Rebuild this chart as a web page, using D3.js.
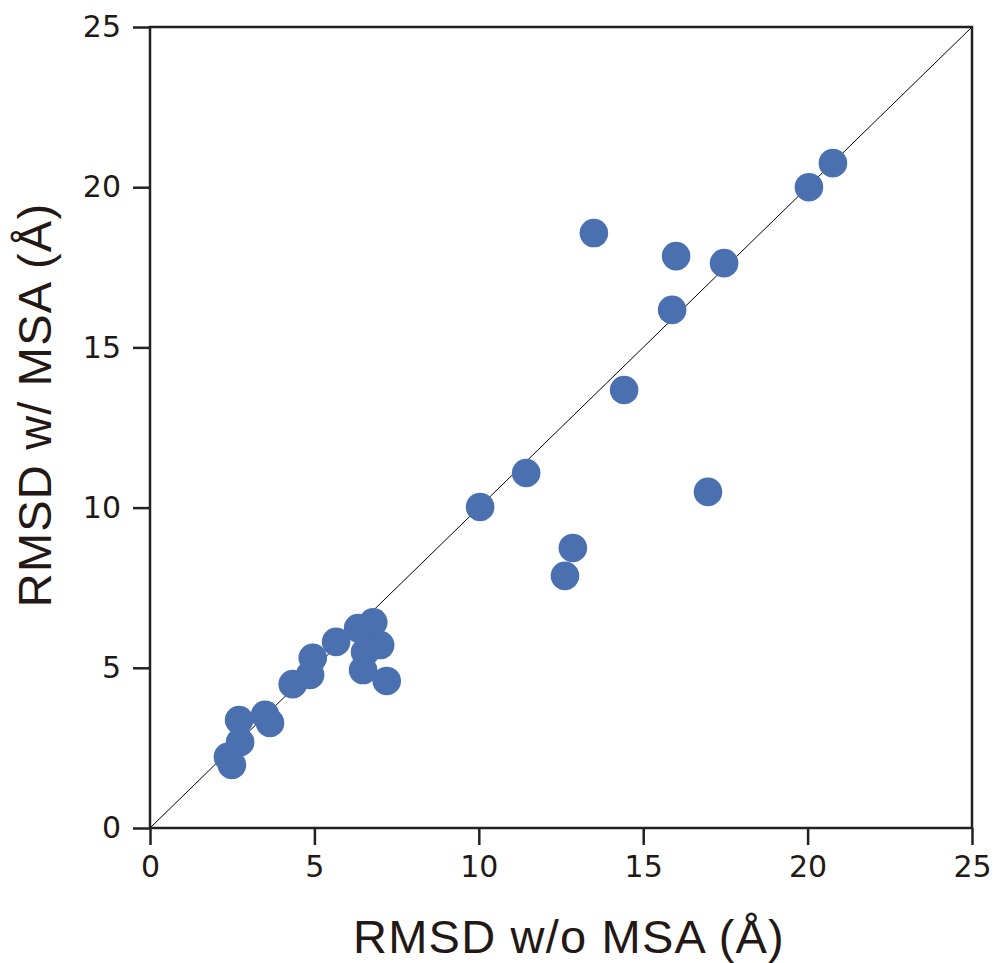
<!DOCTYPE html>
<html>
<head>
<meta charset="utf-8">
<script src="https://cdn.jsdelivr.net/npm/d3@7"></script>
<style>
body { margin: 0; background: #fff; }
</style>
</head>
<body>
<div id="chart"></div>
<script>
// RMSD values
var xVals = [20.77, 20.04, 13.50, 16.00, 17.46, 15.88, 14.42, 11.44, 10.04, 16.97, 12.86, 12.62,
  6.79, 6.33, 7.00, 6.54, 6.48, 7.20, 5.66, 4.95, 4.87, 4.34, 3.65, 3.50, 2.71, 2.74, 2.37, 2.49];
var yVals = [20.75, 20.00, 18.57, 17.85, 17.63, 16.17, 13.67, 11.08, 10.02, 10.49, 8.74, 7.87,
  6.42, 6.24, 5.71, 5.49, 4.93, 4.59, 5.81, 5.31, 4.78, 4.49, 3.28, 3.53, 3.37, 2.68, 2.22, 1.97];
var ticks = [0, 5, 10, 15, 20, 25];

var W = 997, H = 963;
const margin = {top: 27, right: 25, bottom: 135, left: 150};
var width = W - margin.left - margin.right,
    height = H - margin.top - margin.bottom;

var svg = d3.select("#chart").append("svg")
  .attr("width", W)
  .attr("height", H);

var g = svg.append("g")
  .attr("transform", "translate(" + margin.left + "," + margin.top + ")");

var x = d3.scaleLinear().domain([0, 25]).range([0, width]);
var y = d3.scaleLinear().domain([0, 25]).range([height, 0]);

var textColor = "#231815";

// diagonal y = x
g.append("line")
  .attr("x1", x(0)).attr("y1", y(0))
  .attr("x2", x(25)).attr("y2", y(25))
  .attr("stroke", "#000")
  .attr("stroke-width", 1);

var data = xVals.map((v, i) => ({x: v, y: yVals[i]}));

g.selectAll(".dot")
  .data(data)
  .enter()
  .append("circle")
  .attr("class", "dot")
  .attr("cx", d => x(d.x))
  .attr("cy", d => y(d.y))
  .attr("r", 14.3)
  .attr("fill", "#4A70B0");

// frame
g.append("rect")
  .attr("width", width)
  .attr("height", height)
  .attr("fill", "none")
  .attr("stroke", "#222")
  .attr("stroke-width", 2.5);

var xAxis = g.append("g")
  .attr("transform", "translate(0," + height + ")")
  .call(d3.axisBottom(x).tickValues(ticks).tickSize(17).tickPadding(11));
var yAxis = g.append("g")
  .call(d3.axisLeft(y).tickValues(ticks).tickSize(17).tickPadding(12));

[xAxis, yAxis].forEach(a => {
  a.select(".domain").remove();
  a.selectAll(".tick line").attr("stroke", "#222").attr("stroke-width", 2.5);
  a.selectAll(".tick text")
    .attr("fill", textColor)
    .style("font-family", "DejaVu Sans")
    .style("font-size", "30px");
});

svg.append("text")
  .attr("x", margin.left + width / 2 + 8)
  .attr("y", 953)
  .attr("text-anchor", "middle")
  .attr("fill", textColor)
  .style("font-family", "Liberation Sans")
  .style("font-size", "47px")
  .style("letter-spacing", "1.2px")
  .text("RMSD w/o MSA (Å)");

svg.append("text")
  .attr("transform", "translate(51,405) rotate(-90)")
  .attr("text-anchor", "middle")
  .attr("fill", textColor)
  .style("font-family", "Liberation Sans")
  .style("font-size", "47px")
  .style("letter-spacing", "1.2px")
  .text("RMSD w/ MSA (Å)");
</script>
</body>
</html>
